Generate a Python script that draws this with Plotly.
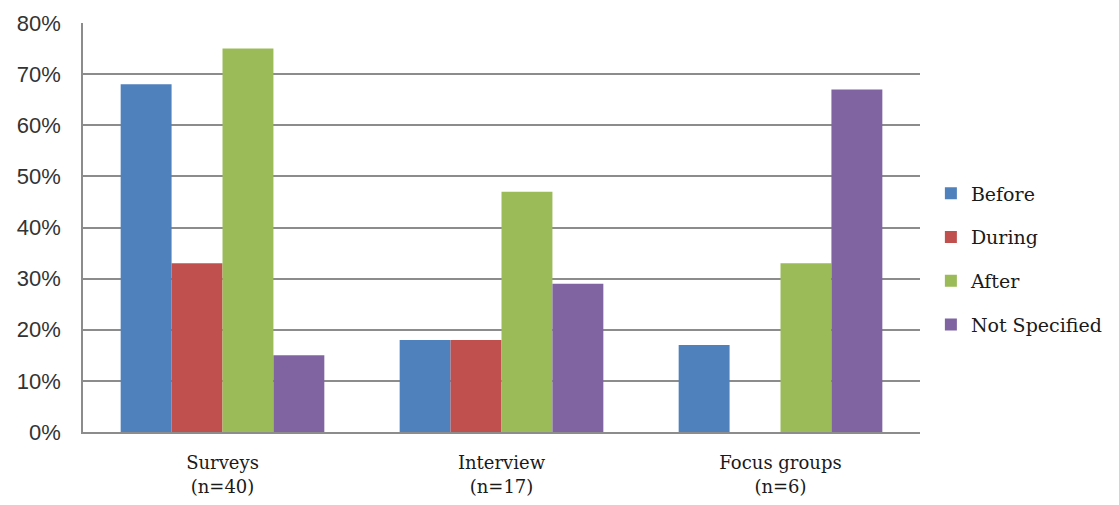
import plotly.graph_objects as go

categories = ["Surveys<br>(n=40)", "Interview<br>(n=17)", "Focus groups<br>(n=6)"]
before = [68, 18, 17]
during = [33, 18, 0]
after = [75, 47, 33]
not_specified = [15, 29, 67]
series_names = ["Before", "During", "After", "Not Specified"]
colors = ["#4F81BD", "#C0504D", "#9BBB59", "#8064A2"]

fig = go.Figure()
for name, vals, col in zip(series_names, [before, during, after, not_specified], colors):
    fig.add_trace(go.Bar(x=categories, y=vals, name=name, marker_color=col,
                         marker_line_width=0, legendgroup=name))

fig.update_layout(
    width=1119, height=505,
    margin=dict(l=83, r=199, t=23, b=73, autoexpand=False),
    plot_bgcolor="white", paper_bgcolor="white",
    barmode="group", bargap=0.27, bargroupgap=0,
    legend=dict(x=1.013, y=0.423, xanchor="left", yanchor="middle",
                font=dict(family="DejaVu Serif", size=19, color="#1a1a1a"),
                traceorder="grouped", tracegroupgap=16, itemwidth=30),
    showlegend=True,
)
fig.update_yaxes(range=[0, 80], dtick=10, ticksuffix="%",
                 showgrid=True, gridcolor="#8c8c8c", gridwidth=1.5,
                 showline=True, linecolor="#8c8c8c", linewidth=1.5,
                 ticks="", ticklabelstandoff=16,
                 tickfont=dict(family="Liberation Sans", size=22, color="#333333"),
                 zeroline=False)
fig.update_xaxes(showline=True, linecolor="#8c8c8c", linewidth=1.5,
                 ticklabelstandoff=14,
                 tickfont=dict(family="DejaVu Serif", size=18, color="#1a1a1a"))

fig.write_html("out.html")
